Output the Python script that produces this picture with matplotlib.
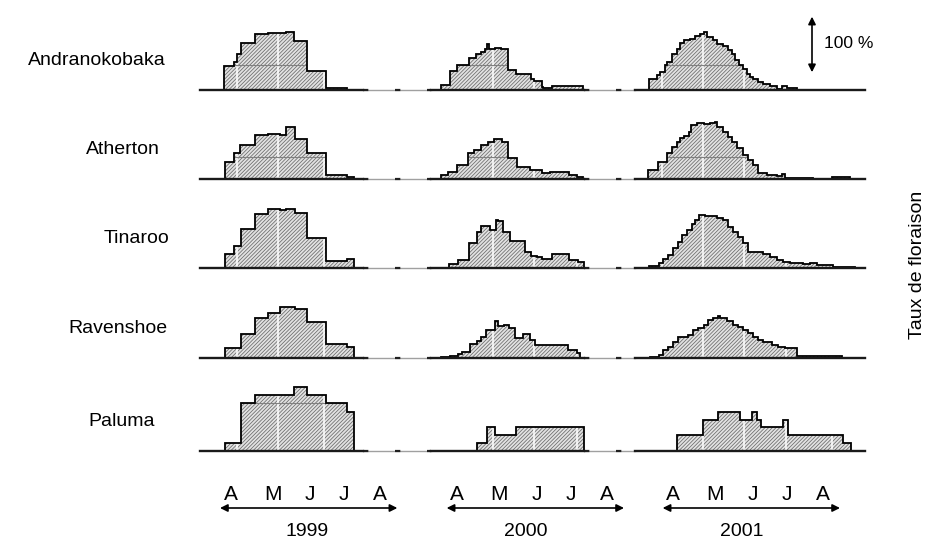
"""Flowering rate per site and year, stepped profiles"""

import matplotlib.pyplot as plt
from matplotlib.patches import Polygon

plt.rcParams['font.family'] = ['Liberation Sans', 'DejaVu Sans']
plt.rcParams['hatch.linewidth'] = 0.55

sites = ['Andranokobaka', 'Atherton', 'Tinaroo', 'Ravenshoe', 'Paluma']
years = ['1999', '2000', '2001']
months = ['A', 'M', 'J', 'J', 'A']
month_days = [23, 54.5, 82.5, 108, 135]

# step edges (days in season) and flowering rate (%) between edges
andra_1999_x = [18.3, 25.8, 27.5, 30.5, 41.3, 51.3, 64.5, 70.8, 80, 94.3, 110]
andra_1999_y = [43, 50, 65, 85, 100, 103, 104, 88, 34, 2.4]
andra_2000_x = [10.75, 17.5, 22.75, 32, 37, 40.75, 43.75, 45, 46.5, 51.25, 55.75, 61.25,
                66.75, 73.75, 78.25, 80.75, 86.25, 87.5, 93.75, 117.5]
andra_2000_y = [8, 34, 44, 58, 65, 68, 73, 83, 73, 76, 73, 35, 28, 29, 19, 16, 5, 4, 7]
andra_2001_x = [4.75, 10.5, 13, 16.75, 18.5, 21.75, 25.5, 28, 31, 35.5, 39.25, 43, 46, 48.5,
                53, 55.5, 60.5, 64.25, 66.75, 69.25, 72.5, 75.5, 78, 80.5, 83, 86.75, 90.5,
                95.5, 100.5, 104.25, 108, 115.5]
andra_2001_y = [19, 26, 32, 44, 50, 65, 74, 85, 89, 92, 97, 100, 104, 95, 89, 82, 79, 71, 64,
                53, 44, 37, 29, 23, 19, 14, 11, 7, 2, 7, 4]

ather_1999_x = [18.75, 25.75, 30, 41.25, 51.25, 60, 64.5, 71.25, 80, 94.25, 110, 115.75]
ather_1999_y = [32, 47, 62, 80, 82, 80, 94, 72, 47, 8, 4]
ather_2000_x = [10.75, 16.25, 23, 31.25, 35.5, 40.75, 46.25, 50.5, 56.25, 61.25, 67.5, 77.5,
                86.25, 92.5, 100, 107, 112.5, 117.5]
ather_2000_y = [8, 14, 26, 47, 53, 62, 68, 72, 67, 38, 22, 16, 11, 14, 13, 8, 5]
ather_2001_x = [4.25, 11.75, 18.5, 21.75, 25.5, 28, 31, 34.75, 36, 40.5, 46, 50.5, 54.25, 55.5,
                60.5, 64.25, 66.75, 70.5, 75.5, 79.25, 83, 86.75, 93, 100.5, 104.25, 106.75,
                128, 141.75, 155.5]
ather_2001_y = [17, 32, 47, 59, 68, 74, 78, 86, 97, 101, 100, 102, 104, 95, 86, 77, 68, 56, 44,
                35, 26, 11, 8, 6, 9, 3, 1, 4]

tinar_1999_x = [18.75, 25.75, 30.5, 41.25, 51.25, 60, 64.5, 71.25, 80, 94.25, 110, 115.75]
tinar_1999_y = [25, 40, 70, 97, 106, 105, 106, 99, 55, 14, 16]
tinar_2000_x = [17, 23.75, 32, 37.5, 40.75, 47.5, 52, 53.75, 57.5, 62.5, 73.75, 78.25, 82.5,
                86.25, 93.75, 107, 113.75, 118]
tinar_2000_y = [7, 15, 45, 65, 77, 69, 87, 85, 66, 50, 30, 23, 20, 16, 25, 15, 12]
tinar_2001_x = [4.75, 12.25, 15.5, 19.25, 23, 26.75, 29.25, 33, 36.75, 39.25, 42.25, 46.75,
                55.5, 60.5, 64.25, 68, 71.75, 75.5, 79.25, 90.5, 95.5, 100.5, 105.5, 110.5,
                120.5, 125.5, 130.5, 143, 159.25]
tinar_2001_y = [4, 9, 17, 24, 36, 48, 60, 69, 79, 87, 96, 95, 91, 87, 75, 66, 57, 45, 29, 25,
                21, 15, 12, 9, 7, 9, 6, 3]

raven_1999_x = [18.75, 30.5, 41.25, 51.25, 60, 71.25, 80, 94.25, 110, 115.75]
raven_1999_y = [19, 43, 72, 82, 92, 88, 65, 25, 21]
raven_2000_x = [10.75, 17.5, 23.75, 26.25, 32.5, 37.5, 40.75, 44.5, 51.25, 53.75, 58, 62,
                66.25, 72.5, 77.5, 81.25, 106.25, 112.5, 115]
raven_2000_y = [2, 5, 7, 11, 25, 31, 39, 51, 67, 59, 60, 54, 37, 43, 33, 24, 15, 9]
raven_2001_x = [5.5, 12.25, 15.5, 19.25, 23, 26.75, 30.5, 34.25, 38, 41.75, 46, 49.25, 53,
                56.25, 58, 63, 68, 71.75, 75.5, 79.25, 83, 86.75, 90.5, 96.75, 101.75, 106.75,
                115.5, 149.25]
raven_2001_y = [3, 6, 15, 21, 30, 38, 39, 42, 51, 55, 60, 69, 72, 77, 72, 67, 60, 56, 51, 45,
                39, 33, 29, 24, 21, 18, 5]

palum_1999_x = [18.75, 30.5, 41.25, 70.75, 80, 94.25, 110, 115.75]
palum_1999_y = [15, 86, 101, 115, 101, 86, 71]
palum_2000_x = [37.5, 45, 51.25, 67, 118]
palum_2000_y = [15, 44, 29, 44]
palum_2001_x = [25.5, 45, 56.25, 73, 81.75, 85.5, 88.75, 105, 109.25, 150, 156]
palum_2001_y = [29, 56, 71, 56, 71, 56, 44, 56, 29, 15]

series = [
    [(andra_1999_x, andra_1999_y), (andra_2000_x, andra_2000_y), (andra_2001_x, andra_2001_y)],
    [(ather_1999_x, ather_1999_y), (ather_2000_x, ather_2000_y), (ather_2001_x, ather_2001_y)],
    [(tinar_1999_x, tinar_1999_y), (tinar_2000_x, tinar_2000_y), (tinar_2001_x, tinar_2001_y)],
    [(raven_1999_x, raven_1999_y), (raven_2000_x, raven_2000_y), (raven_2001_x, raven_2001_y)],
    [(palum_1999_x, palum_1999_y), (palum_2000_x, palum_2000_y), (palum_2001_x, palum_2001_y)],
]

# layout
year_shift = [0, 170, 332]
row_base = [819.5, 658.3, 498, 336, 169.2]
base_span = [(0, 122), (3, 118), (-6, 167)]
vgrid = [[27.75, 58.5, 93], [49.75, 80.5, 112.75], [14.5, 45.25, 76, 107.5, 142]]
hgrid = [44, 40, None, None, 86]
label_x = [-77.25, -57.75, -47.25, -61.5, -58.5]
year_label_day = [80, 74, 74.5]

fig = plt.figure(figsize=(9.27, 5.45), dpi=100)
ax = fig.add_axes([0, 0, 1, 1])
ax.set_xlim(-150, 545.25)
ax.set_ylim(0, 981)
ax.axis('off')

for r, site in enumerate(sites):
    y0 = row_base[r]
    # gaps between seasons: grey line with black dashes
    for k in range(2):
        xa = year_shift[k] + base_span[k][1]
        xb = year_shift[k + 1] + base_span[k + 1][0]
        ax.plot([xa, xb], [y0, y0], color='#a0a0a0', lw=1.0)
        ax.plot([xa, xb], [y0, y0], color='#202020', lw=1.6, ls=(0, (2.4, 12)))
    for k in range(3):
        sx = year_shift[k]
        ex, ey = series[r][k]
        verts = [(sx + ex[0], y0)]
        for i, h in enumerate(ey):
            verts.append((sx + ex[i], y0 + h))
            verts.append((sx + ex[i + 1], y0 + h))
        verts.append((sx + ex[-1], y0))
        poly = Polygon(verts, closed=True, facecolor='#e2e2e2', edgecolor='#6a6a6a',
                       lw=0, hatch='/////////', zorder=2)
        ax.add_patch(poly)
        # grid seen only inside the filled area
        vl = ax.vlines([sx + d for d in vgrid[k]], y0, y0 + 130, color='white', lw=1.1, zorder=3)
        vl.set_clip_path(poly)
        if hgrid[r] is not None:
            hl, = ax.plot([sx + ex[0], sx + ex[-1]], [y0 + hgrid[r]] * 2, color='#808080',
                          lw=0.8, zorder=3)
            hl.set_clip_path(poly)
        ox = [v[0] for v in verts]
        oy = [v[1] for v in verts]
        ax.plot(ox, oy, color='black', lw=1.3, zorder=4, solid_joinstyle='miter')
        bx0, bx1 = base_span[k]
        ax.plot([sx + bx0, sx + bx1], [y0, y0], color='#1a1a1a', lw=1.7, zorder=5)
    ax.text(label_x[r], y0 + 53, site, fontsize=14, ha='center', va='center')

# month letters, season arrows, years
for k, yr in enumerate(years):
    sx = year_shift[k]
    for m, d in zip(months, month_days):
        ax.text(sx + d, 90, m, fontsize=15, ha='center', va='center')
    ax.annotate('', xy=(sx + 148, 66.6), xytext=(sx + 15, 66.6),
                arrowprops=dict(arrowstyle='<|-|>', color='black', lw=1.2,
                                mutation_scale=11, shrinkA=0, shrinkB=0))
    ax.text(sx + year_label_day[k], 23.4, yr, fontsize=14, ha='center', va='center')

# 100 % scale bar
ax.annotate('', xy=(459, 951), xytext=(459, 851),
            arrowprops=dict(arrowstyle='<|-|>', color='black', lw=1.2,
                            mutation_scale=11, shrinkA=0, shrinkB=0))
ax.text(468, 903, '100 %', fontsize=12.5, ha='left', va='center')

ax.text(537.75, 504, 'Taux de floraison', fontsize=14, rotation=90,
        ha='center', va='center')

fig.savefig('out.png', dpi=100)
